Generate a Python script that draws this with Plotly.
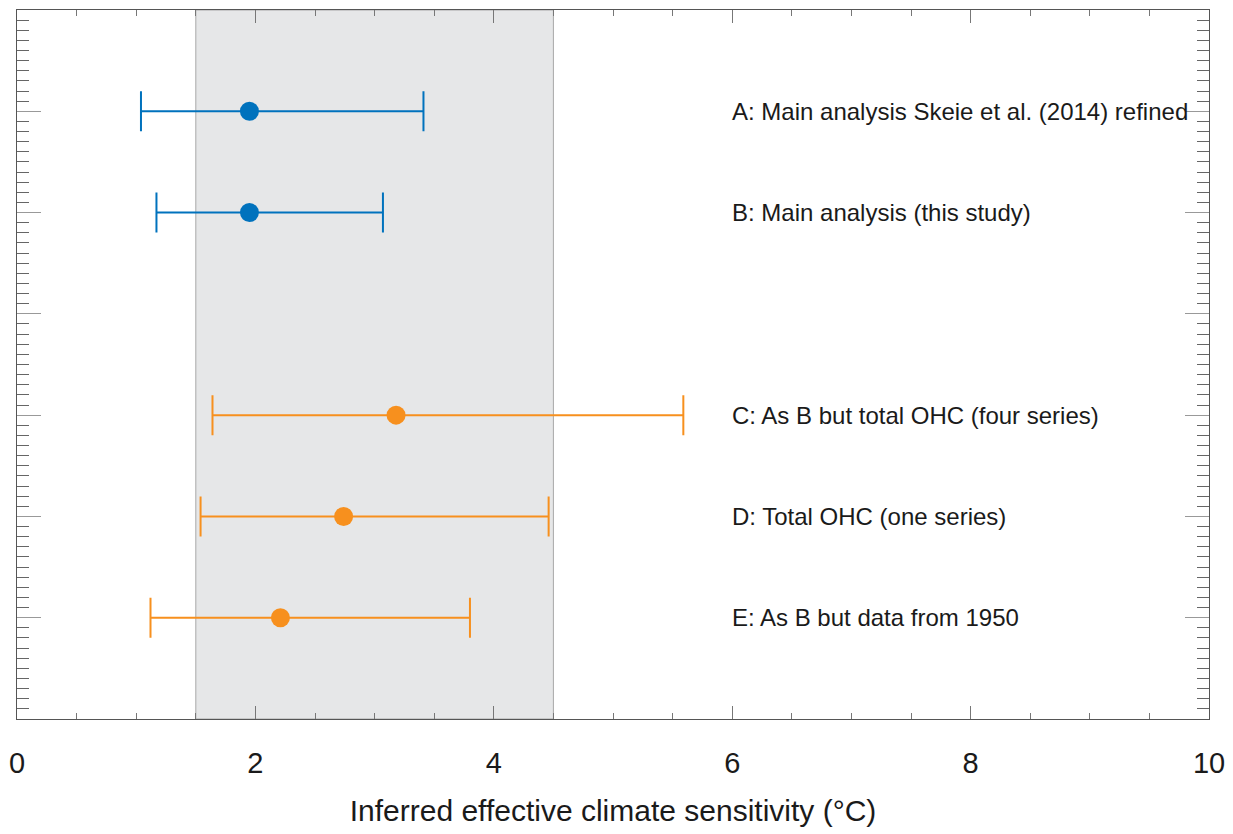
import plotly.graph_objects as go

labels = ["A: Main analysis Skeie et al. (2014) refined",
          "B: Main analysis (this study)",
          "C: As B but total OHC (four series)",
          "D: Total OHC (one series)",
          "E: As B but data from 1950"]
rows = [6, 5, 3, 2, 1]
median = [1.95, 1.95, 3.18, 2.74, 2.21]
low = [1.04, 1.17, 1.64, 1.54, 1.12]
high = [3.41, 3.07, 5.59, 4.46, 3.80]
groups = ["blue", "blue", "orange", "orange", "orange"]
colors = {"blue": "#0072BD", "orange": "#F7901E"}
likely_range = [1.5, 4.5]
label_x = 6.0

fig = go.Figure()

fig.add_shape(type="rect", xref="x", yref="paper", x0=likely_range[0], x1=likely_range[1],
              y0=0, y1=1, fillcolor="#E6E7E8", line=dict(color="#A8A8A8", width=1), layer="below")

for g in ["blue", "orange"]:
    idx = [i for i in range(len(rows)) if groups[i] == g]
    fig.add_trace(go.Scatter(
        x=[median[i] for i in idx], y=[rows[i] for i in idx], mode="markers",
        marker=dict(color=colors[g], size=19),
        error_x=dict(type="data", symmetric=False,
                     array=[high[i] - median[i] for i in idx],
                     arrayminus=[median[i] - low[i] for i in idx],
                     color=colors[g], thickness=2, width=20),
        showlegend=False, hoverinfo="skip"))

for i, t in enumerate(labels):
    fig.add_annotation(x=label_x, y=rows[i], text=t, showarrow=False, xanchor="left",
                       yanchor="middle", xshift=-2,
                       font=dict(size=24, color="#1A1A1A",
                                 family="Liberation Sans, Arial, sans-serif"))

fig.update_layout(
    width=1225, height=826, plot_bgcolor="white", paper_bgcolor="white",
    margin=dict(l=9, r=24, t=2, b=115),
    font=dict(family="Liberation Sans, Arial, sans-serif", color="#1A1A1A"),
)
fig.update_xaxes(range=[0, 10], tickvals=[0, 2, 4, 6, 8, 10], ticks="inside", ticklen=13,
                 tickcolor="#777", showgrid=False, zeroline=False, showline=True,
                 linecolor="#555", linewidth=1, mirror="ticks",
                 tickfont=dict(size=29), ticklabelstandoff=18,
                 minor=dict(dtick=0.5, ticks="inside", ticklen=6, tickcolor="#777", showgrid=False),
                 title=dict(text="Inferred effective climate sensitivity (°C)", font=dict(size=30), standoff=22))
fig.update_yaxes(range=[0, 7], dtick=1, tick0=0, ticks="inside", ticklen=24, tickcolor="#999",
                 showticklabels=False, showgrid=False, zeroline=False, showline=True,
                 linecolor="#555", linewidth=1, mirror="ticks",
                 minor=dict(dtick=0.1, ticks="inside", ticklen=12, tickcolor="#666", showgrid=False))

fig.write_html("out.html")
